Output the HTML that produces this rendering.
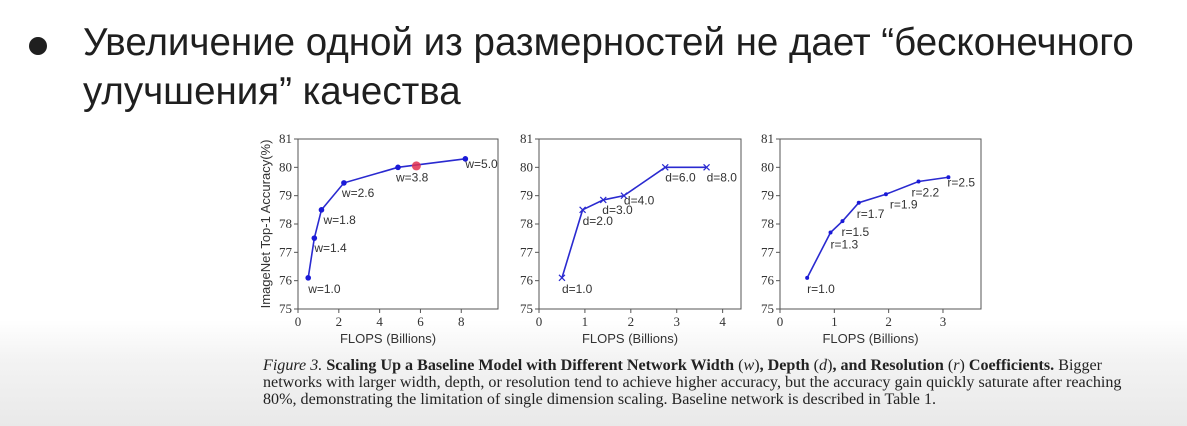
<!DOCTYPE html>
<html><head><meta charset="utf-8">
<style>
body{margin:0;width:1187px;height:426px;overflow:hidden;background:linear-gradient(#fff 0,#fff 320px,#f3f3f3 360px,#e9e9e9 426px);font-family:"Liberation Sans",sans-serif;position:relative}
.title{position:absolute;left:83px;font-size:38.5px;color:#1f1f1f;white-space:nowrap}
.bullet{position:absolute;left:29px;top:37px;width:18px;height:18px;border-radius:50%;background:#1f1f1f}
.cap{position:absolute;left:263px;font-family:"Liberation Serif",serif;font-size:16.1px;line-height:17px;color:#222;white-space:nowrap}
</style></head><body>
<div class="bullet"></div>
<div class="title" style="top:21px">Увеличение одной из размерностей не дает “бесконечного</div>
<div class="title" style="top:70px">улучшения” качества</div>
<svg id="chart" width="1187" height="426" style="position:absolute;left:0;top:0"></svg>
<div class="cap" style="top:357px"><i>Figure 3.</i> <b>Scaling Up a Baseline Model with Different Network Width</b> (<i>w</i>)<b>, Depth</b> (<i>d</i>)<b>, and Resolution</b> (<i>r</i>) <b>Coefficients.</b> Bigger</div>
<div class="cap" style="top:374px">networks with larger width, depth, or resolution tend to achieve higher accuracy, but the accuracy gain quickly saturate after reaching</div>
<div class="cap" style="top:391px">80%, demonstrating the limitation of single dimension scaling. Baseline network is described in Table 1.</div>
<script>
const wFlops=[0.5,0.8,1.15,2.25,4.9,8.2];
const wAcc=[76.1,77.5,78.5,79.45,80.0,80.3];
const wLabels=["w=1.0","w=1.4","w=1.8","w=2.6","w=3.8","w=5.0"];
const wHighlight=[5.8,80.05];
const dFlops=[0.5,0.95,1.4,1.85,2.75,3.65];
const dAcc=[76.1,78.5,78.85,79.0,80.0,80.0];
const dLabels=["d=1.0","d=2.0","d=3.0","d=4.0","d=6.0","d=8.0"];
const rFlops=[0.5,0.93,1.15,1.45,1.95,2.55,3.1];
const rAcc=[76.1,77.7,78.1,78.75,79.05,79.5,79.65];
const rLabels=["r=1.0","r=1.3","r=1.5","r=1.7","r=1.9","r=2.2","r=2.5"];
const yTicks=[75,76,77,78,79,80,81];
const xTicks1=[0,2,4,6,8],xTicks2=[0,1,2,3,4],xTicks3=[0,1,2,3];
const labOff1=[[0,15],[0,14],[2,14],[-2,14],[-2,14],[0,9]];
const labOff2=[[0,15],[0,15],[-1,14],[0,9],[0,14],[0,14]];
const labOff3=[[0,15],[0,16],[-1,15],[-2,15],[4,14],[-7,15],[-1,9]];
const svg=document.getElementById('chart');
const NS='http://www.w3.org/2000/svg';
function el(t,a,p){const e=document.createElementNS(NS,t);for(const k in a)e.setAttribute(k,a[k]);(p||svg).appendChild(e);return e;}
function panel(id,L,R,xmax,xt,xs,ys,labels,offs,marker,showY){
  const T=139,B=309;
  const X=v=>L+(v/xmax)*(R-L), Y=v=>B-(v-75)/6*(B-T);
  const g=el('g',{});
  
  
  const fr=el('rect',{x:L,y:T,width:R-L,height:B-T,fill:'#fff',stroke:'#555','stroke-width':1},g);
  
  
  yTicks.forEach(v=>{el('line',{x1:L-4,x2:L,y1:Y(v),y2:Y(v),stroke:'#555'},g);
    const t=el('text',{x:L-6,y:Y(v)+4,'text-anchor':'end','font-size':13,fill:'#333','font-family':'Liberation Serif, serif'},g);t.textContent=v;
    
    });
  xt.forEach(v=>{el('line',{x1:X(v),x2:X(v),y1:B,y2:B+4,stroke:'#555'},g);
    const t=el('text',{x:X(v),y:B+17,'text-anchor':'middle','font-size':13,fill:'#333','font-family':'Liberation Serif, serif'},g);t.textContent=v;
    
    });
  const xl=el('text',{x:(L+R)/2-10,y:B+34,'text-anchor':'middle','font-size':13,fill:'#333'},g);xl.textContent='FLOPS (Billions)';
  
  
  if(showY){const yl=el('text',{x:0,y:0,'text-anchor':'middle','font-size':13,fill:'#333',transform:`translate(${L-28},${(T+B)/2}) rotate(-90)`},g);yl.textContent='ImageNet Top-1 Accuracy(%)';
    
    }
  const ln=el('polyline',{points:xs.map((v,i)=>X(v)+','+Y(ys[i])).join(' '),fill:'none',stroke:'#2a2ad0','stroke-width':1.6},g);
  
  
  xs.forEach((v,i)=>{const cx=X(v),cy=Y(ys[i]);let m;
    if(marker==='x'){m=el('path',{d:`M${cx-3},${cy-3}L${cx+3},${cy+3}M${cx-3},${cy+3}L${cx+3},${cy-3}`,stroke:'#2a2ad0','stroke-width':1.2},g);}
    else m=el('circle',{cx,cy,r:marker==='o'?2.8:2,fill:'#1a1ad8'},g);
    
    
    const t=el('text',{x:cx+offs[i][0],y:cy+offs[i][1],'font-size':12,fill:'#333','font-family':'Liberation Sans, sans-serif'},g);t.textContent=labels[i];
    
    });
  return {X,Y,g};
}
const p1=panel('width-chart',298,498,9.8,xTicks1,wFlops,wAcc,wLabels,labOff1,'o',true);
const hl=el('circle',{cx:p1.X(wHighlight[0]),cy:p1.Y(wHighlight[1]),r:4.5,fill:'#e03050',opacity:0.85},p1.g);


panel('depth-chart',539,741,4.4,xTicks2,dFlops,dAcc,dLabels,labOff2,'x',false);
panel('resolution-chart',780,981,3.7,xTicks3,rFlops,rAcc,rLabels,labOff3,'s',false);
</script>
</body></html>
